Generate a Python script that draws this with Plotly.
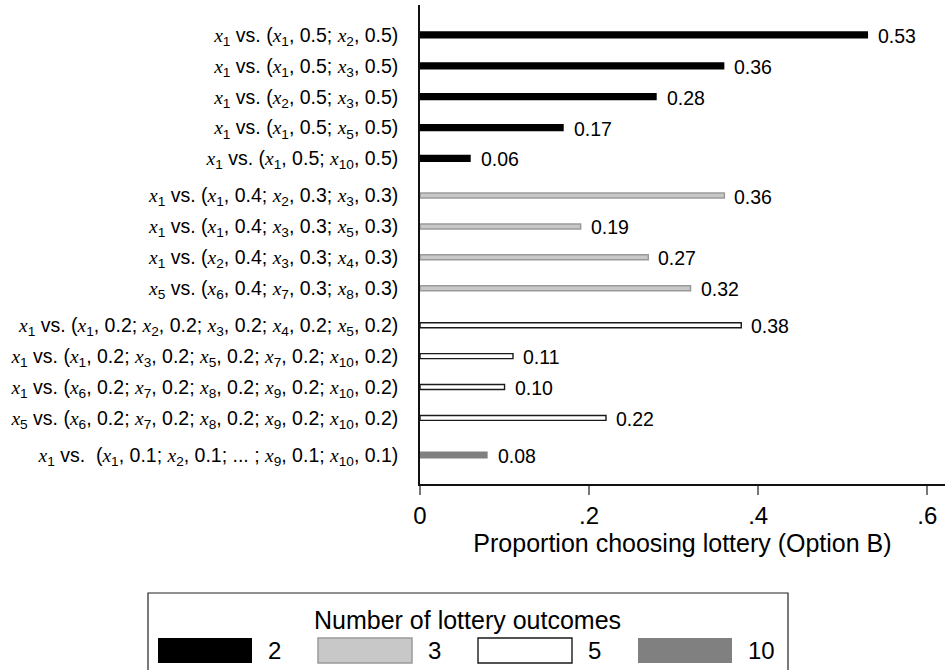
import re
import plotly.graph_objects as go

# ---------------- data ----------------
labels = [
    "x_1 vs. (x_1, 0.5; x_2, 0.5)",
    "x_1 vs. (x_1, 0.5; x_3, 0.5)",
    "x_1 vs. (x_2, 0.5; x_3, 0.5)",
    "x_1 vs. (x_1, 0.5; x_5, 0.5)",
    "x_1 vs. (x_1, 0.5; x_10, 0.5)",
    "x_1 vs. (x_1, 0.4; x_2, 0.3; x_3, 0.3)",
    "x_1 vs. (x_1, 0.4; x_3, 0.3; x_5, 0.3)",
    "x_1 vs. (x_2, 0.4; x_3, 0.3; x_4, 0.3)",
    "x_5 vs. (x_6, 0.4; x_7, 0.3; x_8, 0.3)",
    "x_1 vs. (x_1, 0.2; x_2, 0.2; x_3, 0.2; x_4, 0.2; x_5, 0.2)",
    "x_1 vs. (x_1, 0.2; x_3, 0.2; x_5, 0.2; x_7, 0.2; x_10, 0.2)",
    "x_1 vs. (x_6, 0.2; x_7, 0.2; x_8, 0.2; x_9, 0.2; x_10, 0.2)",
    "x_5 vs. (x_6, 0.2; x_7, 0.2; x_8, 0.2; x_9, 0.2; x_10, 0.2)",
    "x_1 vs.\u00a0 (x_1, 0.1; x_2, 0.1; ... ; x_9, 0.1; x_10, 0.1)",
]
values = [0.53, 0.36, 0.28, 0.17, 0.06, 0.36, 0.19, 0.27, 0.32, 0.38, 0.11, 0.10, 0.22, 0.08]
n_outcomes = [2, 2, 2, 2, 2, 3, 3, 3, 3, 5, 5, 5, 5, 10]
outcome_levels = [2, 3, 5, 10]
x_tickvals = [0, 0.2, 0.4, 0.6]
x_ticktext = ["0", ".2", ".4", ".6"]
x_title = "Proportion choosing lottery (Option B)"
legend_title = "Number of lottery outcomes"

# ---------------- styles ----------------
FONT = "Liberation Sans"
styles = {
    2: dict(fill="#000000", line="#000000", lw=0, width=0.235),
    3: dict(fill="#c8c8c8", line="#9a9a9a", lw=1.5, width=0.16),
    5: dict(fill="#ffffff", line="#1a1a1a", lw=1.4, width=0.16),
    10: dict(fill="#808080", line="#808080", lw=0, width=0.225),
}
GROUP_GAP = 0.2


def to_html(s):
    return re.sub(
        r"x_(\d+)",
        r"<span style='font-family:Liberation Serif'><i>x</i></span><sub>\1</sub>",
        s,
    )


positions = [i + GROUP_GAP * outcome_levels.index(n) for i, n in enumerate(n_outcomes)]

fig = go.Figure()
for lev in outcome_levels:
    idx = [i for i, n in enumerate(n_outcomes) if n == lev]
    st = styles[lev]
    fig.add_trace(go.Bar(
        x=[values[i] for i in idx],
        y=[positions[i] for i in idx],
        orientation="h",
        width=st["width"],
        marker=dict(color=st["fill"], line=dict(color=st["line"], width=st["lw"])),
        name=str(lev),
        showlegend=False,
        hoverinfo="skip",
    ))

annotations = []
for v, p in zip(values, positions):
    annotations.append(dict(
        x=v, y=p, xref="x", yref="y", text=f"{v:.2f}", showarrow=False,
        xanchor="left", yanchor="middle", xshift=8, yshift=-1,
        font=dict(family=FONT, size=19.5, color="#000"),
    ))

# ---------------- layout geometry (pixels) ----------------
W, H = 945, 670
L, R, T, B = 420, 945, 5, 484


def pxx(px):
    return (px - L) / (R - L)


def pxy(py):
    return (B - py) / (B - T)


shapes = []
# legend box
shapes.append(dict(type="rect", xref="paper", yref="paper",
                   x0=pxx(148), x1=pxx(788), y0=pxy(593), y1=pxy(675),
                   line=dict(color="#222", width=1.2), fillcolor="rgba(0,0,0,0)"))
annotations.append(dict(x=pxx(467), y=pxy(620), xref="paper", yref="paper",
                        text=legend_title, showarrow=False, xanchor="center", yanchor="middle",
                        font=dict(family=FONT, size=25, color="#000")))
for k, lev in enumerate(outcome_levels):
    st = styles[lev]
    x0 = 158 + 160 * k
    x1 = x0 + 94
    lw = st["lw"] if st["lw"] > 0 else 0
    shapes.append(dict(type="rect", xref="paper", yref="paper",
                       x0=pxx(x0), x1=pxx(x1), y0=pxy(638), y1=pxy(663),
                       fillcolor=st["fill"],
                       line=dict(color=st["line"], width=lw)))
    annotations.append(dict(x=pxx(x1 + 14), y=pxy(651), xref="paper", yref="paper",
                            text=str(lev), showarrow=False, xanchor="left", yanchor="middle",
                            font=dict(family=FONT, size=24, color="#000")))

fig.update_layout(
    width=W, height=H,
    margin=dict(l=L, r=W - R, t=T, b=H - B, pad=0),
    paper_bgcolor="white", plot_bgcolor="white",
    barmode="overlay",
    font=dict(family=FONT, color="#000"),
    annotations=annotations,
    shapes=shapes,
    showlegend=False,
)
fig.update_xaxes(
    range=[0, 0.621],
    tickvals=x_tickvals, ticktext=x_ticktext,
    ticks="outside", ticklen=9, tickwidth=1.5, tickcolor="#777",
    showline=True, linecolor="#111", linewidth=1.5,
    showgrid=False, zeroline=False,
    tickfont=dict(family=FONT, size=24, color="#000"),
    title=dict(text=x_title, font=dict(family=FONT, size=25, color="#000"), standoff=1),
)
fig.update_yaxes(
    range=[positions[-1] + 0.94, -0.97],
    tickvals=positions, ticktext=[to_html(s) for s in labels],
    ticks="", ticklabelstandoff=16,
    showline=True, linecolor="#111", linewidth=1.5,
    showgrid=False, zeroline=False,
    tickfont=dict(family=FONT, size=19.5, color="#000"),
)

fig.write_html("out.html")
